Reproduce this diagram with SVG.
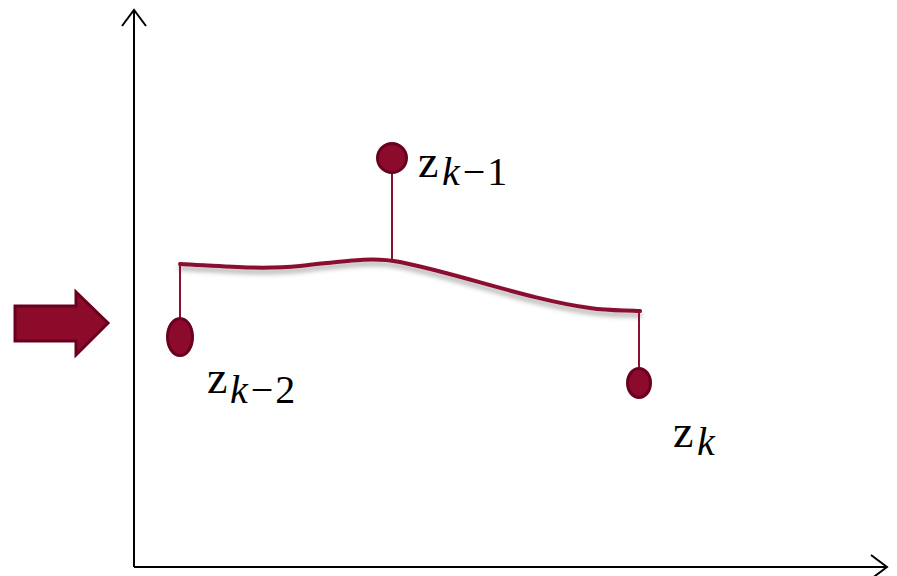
<svg xmlns="http://www.w3.org/2000/svg" width="897" height="576" viewBox="0 0 897 576">
<style>
.axis{stroke:#000;stroke-width:2;fill:none}
.curve{stroke:#8A1030;stroke-width:4;fill:none;stroke-linecap:round}
.stem{stroke:#8A1030;stroke-width:2;fill:none}
.pt{fill:#8C0A2C;stroke:#6A0020;stroke-width:3}
.z{font-family:"Liberation Serif","DejaVu Serif",serif;font-size:46px;fill:#000}
.sub{font-family:"Liberation Serif","DejaVu Serif",serif;font-size:40px;fill:#000}
.it{font-style:italic}
</style>
<defs>
<filter id="sh" x="-5%" y="-50%" width="110%" height="300%">
<feDropShadow dx="0" dy="4" stdDeviation="2.5" flood-color="#000" flood-opacity="0.35"/>
</filter>
</defs>
<g id="axes">
<line class="axis" x1="134" y1="567" x2="134" y2="10"/>
<polyline class="axis" points="122,26 134,10 146,26"/>
<line class="axis" x1="134" y1="567" x2="887" y2="567"/>
<polyline class="axis" points="871,555 887,567 871,579"/>
</g>
<g id="bigarrow">
<polygon points="15,306 76,306 76,292 108,323 76,355 76,341 15,341" fill="#8C0A2A" stroke="#6A0020" stroke-width="3" stroke-linejoin="miter"/>
</g>
<g id="connectors">
<path class="curve" filter="url(#sh)" d="M180,264 C220,266 260,270 300,266 C340,262 370,256 400,262 C460,274 530,300 590,308 C610,311 625,310 640,311"/>
<line class="stem" x1="180" y1="264" x2="180" y2="320"/>
<line class="stem" x1="392" y1="261" x2="392" y2="172"/>
<line class="stem" x1="639" y1="311" x2="639" y2="370"/>
</g>
<g id="zk2">
<ellipse class="pt" cx="180" cy="337" rx="12.5" ry="18.5"/>
<text class="z" x="207" y="393">z</text>
<text class="sub" x="230" y="403"><tspan class="it">k</tspan><tspan dx="3">−</tspan><tspan dx="2">2</tspan></text>
</g>
<g id="zk1">
<circle class="pt" cx="392" cy="158" r="14.5"/>
<text class="z" x="418" y="177">z</text>
<text class="sub" x="442" y="185"><tspan class="it">k</tspan><tspan dx="3">−</tspan><tspan dx="2">1</tspan></text>
</g>
<g id="zk">
<ellipse class="pt" cx="639" cy="383" rx="11.5" ry="14.5"/>
<text class="z" x="673" y="447">z</text>
<text class="sub it" x="697" y="455">k</text>
</g>
</svg>
